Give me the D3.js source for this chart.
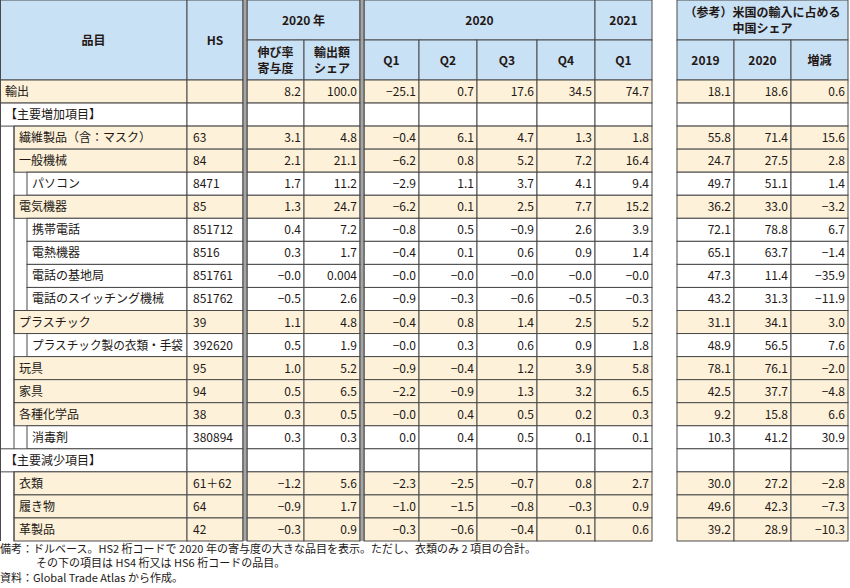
<!DOCTYPE html><html><head><meta charset="utf-8"><script src="https://cdn.jsdelivr.net/npm/d3@7"></script>
<style>body{margin:0;background:#fff}text{font-family:"Noto Sans CJK JP";font-size:12px;fill:#231815}</style></head><body><svg id="c" width="850" height="588"></svg>
<script>
const names=["輸出","【主要増加項目】","繊維製品（含：マスク）","一般機械","パソコン","電気機器","携帯電話","電熱機器","電話の基地局","電話のスイッチング機械","プラスチック","プラスチック製の衣類・手袋","玩具","家具","各種化学品","消毒剤","【主要減少項目】","衣類","履き物","革製品"];
const levels=[0,0,1,1,2,1,2,2,2,2,1,2,1,1,1,2,0,1,1,1];
const hs=["","","63","84","8471","85","851712","8516","851761","851762","39","392620","95","94","38","380894","","61＋62","64","42"];
const contrib=["8.2","","3.1","2.1","1.7","1.3","0.4","0.3","−0.0","−0.5","1.1","0.5","1.0","0.5","0.3","0.3","","−1.2","−0.9","−0.3"];
const share=["100.0","","4.8","21.1","11.2","24.7","7.2","1.7","0.004","2.6","4.8","1.9","5.2","6.5","0.5","0.3","","5.6","1.7","0.9"];
const q1_20=["−25.1","","−0.4","−6.2","−2.9","−6.2","−0.8","−0.4","−0.0","−0.9","−0.4","−0.0","−0.9","−2.2","−0.0","0.0","","−2.3","−1.0","−0.3"];
const q2_20=["0.7","","6.1","0.8","1.1","0.1","0.5","0.1","−0.0","−0.3","0.8","0.3","−0.4","−0.9","0.4","0.4","","−2.5","−1.5","−0.6"];
const q3_20=["17.6","","4.7","5.2","3.7","2.5","−0.9","0.6","−0.0","−0.6","1.4","0.6","1.2","1.3","0.5","0.5","","−0.7","−0.8","−0.4"];
const q4_20=["34.5","","1.3","7.2","4.1","7.7","2.6","0.9","−0.0","−0.5","2.5","0.9","3.9","3.2","0.2","0.1","","0.8","−0.3","0.1"];
const q1_21=["74.7","","1.8","16.4","9.4","15.2","3.9","1.4","−0.0","−0.3","5.2","1.8","5.8","6.5","0.3","0.1","","2.7","0.9","0.6"];
const us2019=["18.1","","55.8","24.7","49.7","36.2","72.1","65.1","47.3","43.2","31.1","48.9","78.1","42.5","9.2","10.3","","30.0","49.6","39.2"];
const us2020=["18.6","","71.4","27.5","51.1","33.0","78.8","63.7","11.4","31.3","34.1","56.5","76.1","37.7","15.8","41.2","","27.2","42.3","28.9"];
const usChg=["0.6","","15.6","2.8","1.4","−3.2","6.7","−1.4","−35.9","−11.9","3.0","7.6","−2.0","−4.8","6.6","30.9","","−2.8","−7.3","−10.3"];
const numCols=[contrib,share,q1_20,q2_20,q3_20,q4_20,q1_21,us2019,us2020,usChg];
const colX=[247,304,364,419,477,537,595,677,734,791], colW=[57,56,55,58,60,58,57,57,57,57];
const svg=d3.select("#c");
const BLUE="#c9e1f5",BEIGE="#fdf1d9",LINE="#4a4a4a";
const y=d3.scaleBand().domain(d3.range(names.length)).range([80,541]);
const rh=y.bandwidth();
const hdr=[[0,0,187,80,"品目"],[187,0,56,80,"HS"],[247,0,113,40,"2020 年"],[364,0,231,40,"2020"],[595,0,57,40,"2021"],
 [247,40,57,40,"伸び率\n寄与度"],[304,40,56,40,"輸出額\nシェア"],[364,40,55,40,"Q1"],[419,40,58,40,"Q2"],[477,40,60,40,"Q3"],[537,40,58,40,"Q4"],[595,40,57,40,"Q1"],
 [677,0,171,40,"（参考）米国の輸入に占める\n中国シェア"],[677,40,57,40,"2019"],[734,40,57,40,"2020"],[791,40,57,40,"増減"]];
hdr.forEach(h=>{svg.append("rect").attr("x",h[0]).attr("y",h[1]).attr("width",h[2]).attr("height",h[3]).attr("fill",BLUE).attr("stroke",LINE).attr("stroke-width",1);
 const ls=h[4].split("\n");ls.forEach((l,i)=>svg.append("text").attr("x",h[0]+h[2]/2).attr("y",h[1]+h[3]/2+4.5+(i-(ls.length-1)/2)*16).attr("text-anchor","middle").attr("font-weight","bold").text(l));});
names.forEach((n,i)=>{
 const lv=levels[i], yy=y(i), isHead=(i==1||i==16);
 const fill=(lv==2||isHead)?"#fff":BEIGE;
 const nx=lv==0?0:(lv==1?14:27);
 svg.append("rect").attr("x",nx).attr("y",yy).attr("width",187-nx).attr("height",rh).attr("fill",fill).attr("stroke",LINE);
 const t=svg.append("text").attr("x",nx+5).attr("y",yy+rh/2+4.5).text(n);
 if(t.node().getComputedTextLength()>187-nx-9) t.attr("textLength",187-nx-9).attr("lengthAdjust","spacingAndGlyphs");
 svg.append("rect").attr("x",187).attr("y",yy).attr("width",56).attr("height",rh).attr("fill",fill).attr("stroke",LINE);
 svg.append("text").attr("x",193).attr("y",yy+rh/2+4.5).text(hs[i]);
 numCols.forEach((c,j)=>{svg.append("rect").attr("x",colX[j]).attr("y",yy).attr("width",colW[j]).attr("height",rh).attr("fill",fill).attr("stroke",LINE);
  svg.append("text").attr("x",colX[j]+colW[j]-3).attr("y",yy+rh/2+4.5).attr("text-anchor","end").text(c[i]);});
});
svg.append("line").attr("x1",14).attr("x2",14).attr("y1",y(2)).attr("y2",y(16)).attr("stroke",LINE);
svg.append("line").attr("x1",14).attr("x2",14).attr("y1",y(17)).attr("y2",541).attr("stroke",LINE);
svg.append("line").attr("x1",0).attr("x2",0).attr("y1",0).attr("y2",541).attr("stroke",LINE).attr("stroke-width",2);
[245,362].forEach(x=>svg.append("line").attr("x1",x).attr("x2",x).attr("y1",0).attr("y2",541).attr("stroke",LINE));
[243,247,360,364].forEach(x=>svg.append("line").attr("x1",x).attr("x2",x).attr("y1",0).attr("y2",541).attr("stroke",LINE));
const notes=[[0,553,"備考：ドルベース。HS2 桁コードで 2020 年の寄与度の大きな品目を表示。ただし、衣類のみ 2 項目の合計。"],[36,567,"その下の項目は HS4 桁又は HS6 桁コードの品目。"],[0,582,"資料：Global Trade Atlas から作成。"]];
notes.forEach(n=>svg.append("text").attr("x",n[0]).attr("y",n[1]).style("font-size","11px").text(n[2]));
</script></body></html>
